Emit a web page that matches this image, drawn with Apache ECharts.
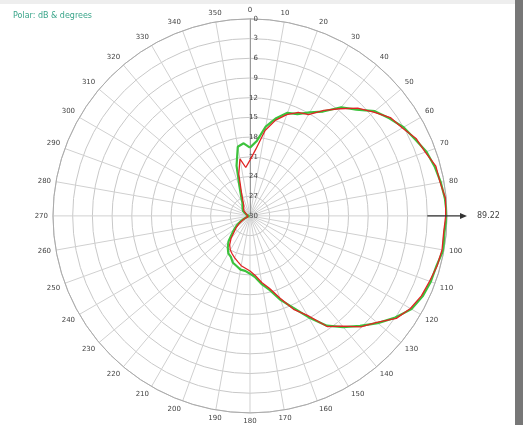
<!DOCTYPE html>
<html>
<head>
<meta charset="utf-8">
<script src="https://cdn.jsdelivr.net/npm/echarts@6/dist/echarts.min.js"></script>
<style>html,body{margin:0;padding:0;background:#fff;}#c{width:523px;height:425px;}</style>
</head>
<body>
<div id="c"></div>
<script>
const titleText = "Polar: dB & degrees";
const markerText = "89.22";
const radialTicks = [0, 3, 6, 9, 12, 15, 18, 21, 24, 27, 30];
const angles = [0,5,10,15,20,25,30,35,40,45,50,55,60,65,70,75,80,85,90,95,100,105,110,115,120,125,130,135,140,145,150,155,160,165,170,175,180,185,190,195,200,205,210,215,220,225,230,235,240,245,250,255,260,265,270,275,280,285,290,295,300,305,310,315,320,325,330,335,340,345,350,355,360];
const greenDB = [19.6,18.6,16.2,14.6,13.3,12.9,11.8,10.6,8.4,7.1,5.2,4.1,3.0,2.3,1.4,0.9,0.5,0.2,0.0,0.3,0.1,0.6,0.7,1.0,1.6,3.0,4.6,6.3,7.9,9.6,12.2,14.6,16.4,18.3,19.4,20.6,21.2,21.6,21.7,22.1,22.4,23.1,23.4,24.1,24.9,26.1,26.9,27.6,28.4,29.1,29.5,29.9,30,30,30,29.9,29.7,29.6,29.4,29.2,29.0,28.7,28.5,28.4,28.2,28.0,27.7,26.9,25.4,22.1,19.3,18.9,19.6];
const redDB = [21.5,19.8,16.8,14.9,13.6,12.6,12.2,10.4,8.7,6.8,5.4,3.9,3.2,2.1,1.6,0.7,0.6,0.1,0.2,0.4,0.3,0.5,0.9,1.2,1.8,2.8,4.8,6.1,8.1,9.4,12.5,14.3,16.7,18.6,19.7,20.9,21.6,22.0,22.3,22.8,23.2,23.6,24.0,24.6,25.5,26.6,27.3,28.0,28.8,29.3,29.7,30,30,30,30,30,29.9,29.8,29.6,29.5,29.3,29.0,28.8,28.7,28.5,28.3,28.1,27.4,26.2,23.4,21.2,22.6,21.5];

const chart = echarts.init(document.getElementById('c'));
const toPairs = arr => arr.map((v, i) => [v, angles[i]]);
chart.setOption({
  animation: false,
  title: {
    text: titleText, left: 8, top: 7,
    textStyle: {fontSize: 8, color: '#3aa58a', fontWeight: 'normal', fontFamily: 'DejaVu Sans'}
  },
  polar: {center: ['47.8%', '50.8%'], radius: 197},
  angleAxis: {
    type: 'value', min: 0, max: 360, interval: 10, startAngle: 90, clockwise: true,
    axisLine: {lineStyle: {color: '#aaa', width: 1}},
    axisTick: {show: false},
    splitLine: {lineStyle: {color: '#d0d0d0', width: 1}},
    axisLabel: {
      fontSize: 7, color: '#444', margin: 5, fontFamily: 'DejaVu Sans',
      formatter: v => (v === 90 || v === 360) ? '' : String(v)
    }
  },
  radiusAxis: {
    type: 'value', min: 0, max: 30, interval: 3, inverse: true,
    axisLine: {lineStyle: {color: '#999'}},
    axisTick: {show: false},
    splitLine: {lineStyle: {color: '#c8c8c8', width: 1}},
    axisLabel: {fontSize: 7, color: '#444', margin: -8, fontFamily: 'DejaVu Sans', showMaxLabel: true}
  },
  series: [
    {type: 'line', coordinateSystem: 'polar', data: toPairs(greenDB), showSymbol: false,
     lineStyle: {color: '#3cc23c', width: 2.2}, z: 2},
    {type: 'line', coordinateSystem: 'polar', data: toPairs(redDB), showSymbol: false,
     lineStyle: {color: '#e02424', width: 1.3}, z: 3}
  ]
});
const pIn = chart.convertToPixel({polarIndex: 0}, [3, 90]);
const pEdge = chart.convertToPixel({polarIndex: 0}, [0, 90]);
const xEnd = pEdge[0] + 16;
chart.setOption({
  graphic: [
    {type: 'line', shape: {x1: pIn[0], y1: pIn[1], x2: xEnd, y2: pIn[1]}, style: {stroke: '#333', lineWidth: 1.2}, z: 10},
    {type: 'polygon', shape: {points: [[xEnd + 4, pIn[1]], [xEnd - 3, pIn[1] - 3], [xEnd - 3, pIn[1] + 3]]}, style: {fill: '#333'}, z: 10},
    {type: 'text', x: xEnd + 14, y: pIn[1], style: {text: markerText, fill: '#444', fontSize: 8, verticalAlign: 'middle', fontFamily: 'DejaVu Sans'}, z: 10},
    {type: 'rect', shape: {x: 515, y: 0, width: 8, height: 425}, style: {fill: '#777'}, z: 10},
    {type: 'rect', shape: {x: 0, y: 0, width: 515, height: 4}, style: {fill: '#eee'}, z: 10}
  ]
});
</script>
</body>
</html>
